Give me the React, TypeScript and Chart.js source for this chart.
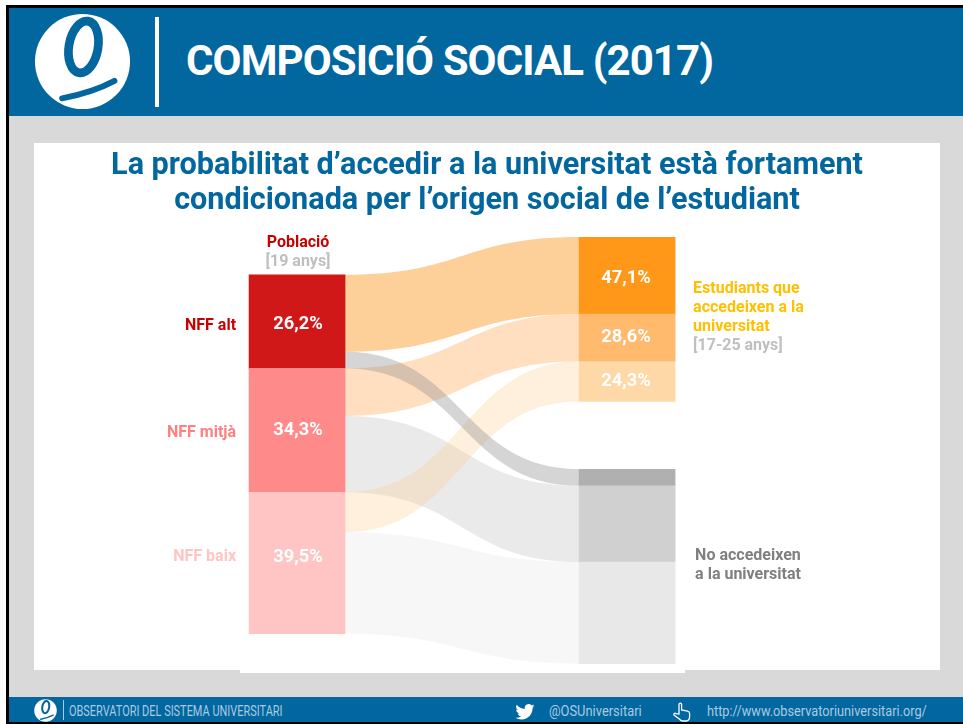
import React, { useEffect, useRef } from "react";
import { Chart, registerables } from "chart.js";

Chart.register(...registerables);

// Values
const sourceLabels = ["NFF alt", "NFF mitjà", "NFF baix"];
const populationShare = ["26,2%", "34,3%", "39,5%"];
const accessShare = ["47,1%", "28,6%", "24,3%"];
const flowToAccess = [21.4, 13.2, 11.1];
const flowToNoAccess = [4.6, 21.2, 28.2];
const populationTop = 10.5;
const targetGap = 18.8;
const xPopulation = 0;
const xTargets = 1;

const BLUE = "#02669f";
const FONT = "Roboto, sans-serif";

function buildStacks() {
  const left: number[][] = [];
  const leftAcc: number[][] = [];
  const leftNo: number[][] = [];
  let y = populationTop;
  flowToAccess.forEach((v, i) => {
    const n = flowToNoAccess[i];
    left.push([y, y + v + n]);
    leftAcc.push([y, y + v]);
    leftNo.push([y + v, y + v + n]);
    y += v + n;
  });
  const rightAcc: number[][] = [];
  y = 0;
  flowToAccess.forEach((v) => {
    rightAcc.push([y, y + v]);
    y += v;
  });
  y += targetGap;
  const rightNo: number[][] = [];
  flowToNoAccess.forEach((v) => {
    rightNo.push([y, y + v]);
    y += v;
  });
  return { left, leftAcc, leftNo, rightAcc, rightNo };
}

const sankeyPlugin = {
  id: "sankeyFlows",
  beforeDatasetsDraw(chart: any) {
    const { ctx, scales } = chart;
    const s = buildStacks();
    const half = 48;
    const x0 = scales.x.getPixelForValue(xPopulation) + half;
    const x1 = scales.x.getPixelForValue(xTargets) - half;
    const ribbon = (a: number[], b: number[], color: string) => {
      const mx = (x0 + x1) / 2;
      const y = (v: number) => scales.y.getPixelForValue(v);
      ctx.beginPath();
      ctx.moveTo(x0, y(a[0]));
      ctx.bezierCurveTo(mx, y(a[0]), mx, y(b[0]), x1, y(b[0]));
      ctx.lineTo(x1, y(b[1]));
      ctx.bezierCurveTo(mx, y(b[1]), mx, y(a[1]), x0, y(a[1]));
      ctx.closePath();
      ctx.fillStyle = color;
      ctx.fill();
    };
    ctx.save();
    ribbon(s.leftNo[2], s.rightNo[2], "#f7f7f7");
    ribbon(s.leftNo[1], s.rightNo[1], "rgba(217,217,219,0.56)");
    ribbon(s.leftAcc[2], s.rightAcc[2], "rgba(255,200,130,0.27)");
    ribbon(s.leftAcc[1], s.rightAcc[1], "rgba(255,192,128,0.5)");
    ribbon(s.leftAcc[0], s.rightAcc[0], "rgba(253,185,105,0.68)");
    ribbon(s.leftNo[0], s.rightNo[0], "rgba(150,150,150,0.4)");
    ctx.restore();
  },
  afterDatasetsDraw(chart: any) {
    const { ctx, scales } = chart;
    const s = buildStacks();
    const xl = scales.x.getPixelForValue(xPopulation);
    const xr = scales.x.getPixelForValue(xTargets);
    const yMid = (r: number[]) => scales.y.getPixelForValue((r[0] + r[1]) / 2);
    ctx.save();
    ctx.textBaseline = "middle";
    ctx.font = `bold 18.3px ${FONT}`;
    ctx.textAlign = "center";
    ctx.fillStyle = "#ffffff";
    const popNudge = [3, 0, -6];
    const accNudge = [3, 0, -0.5];
    populationShare.forEach((t, i) => ctx.fillText(t, xl + 1, yMid(s.left[i]) + popNudge[i]));
    accessShare.forEach((t, i) => ctx.fillText(t, xr - 1, yMid(s.rightAcc[i]) + accNudge[i]));

    ctx.font = `bold 16px ${FONT}`;
    const srcColors = ["#c80000", "#ff8080", "#ffc4c4"];
    ctx.textAlign = "right";
    const srcNudge = [4.5, 2.5, -6.5];
    sourceLabels.forEach((t, i) => {
      ctx.fillStyle = srcColors[i];
      ctx.fillText(t, xl - 61, yMid(s.left[i]) + srcNudge[i]);
    });

    const top = scales.y.getPixelForValue(0);
    ctx.textAlign = "center";
    ctx.fillStyle = "#c80000";
    ctx.fillText("Població", xl + 1, top + 6);
    ctx.fillStyle = "#bfbfbf";
    ctx.fillText("[19 anys]", xl + 1, top + 25);

    ctx.textAlign = "left";
    const rx = xr + 66;
    ctx.fillStyle = "#ffc000";
    ctx.fillText("Estudiants que", rx, top + 52);
    ctx.fillText("accedeixen a la", rx, top + 71);
    ctx.fillText("universitat", rx, top + 90);
    ctx.fillStyle = "#bfbfbf";
    ctx.fillText("[17-25 anys]", rx, top + 109);
    ctx.fillStyle = "#7f7f7f";
    ctx.fillText("No accedeixen", rx + 2, top + 319);
    ctx.fillText("a la universitat", rx + 2, top + 338);
    ctx.restore();
  },
};

function Logo({ size }: { size: number }) {
  return (
    <svg width={size} height={size} viewBox="0 0 100 100" style={{ display: "block" }}>
      <circle cx="50" cy="50" r="49" fill="#fff" />
      <ellipse cx="51" cy="35" rx="15" ry="27" transform="rotate(10 51 35)" fill="none" stroke={BLUE} strokeWidth="9" />
      <path d="M29 88 C 50 84, 68 78, 83 70" fill="none" stroke={BLUE} strokeWidth="6" strokeLinecap="round" />
    </svg>
  );
}

const abs = (left: number, top: number, width: number, height: number, background?: string): React.CSSProperties => ({
  position: "absolute",
  left,
  top,
  width,
  height,
  background,
});

const footerText: React.CSSProperties = {
  position: "absolute",
  fontFamily: FONT,
  fontSize: 15,
  lineHeight: "18px",
  color: "#a9cbe0",
  whiteSpace: "nowrap",
  transformOrigin: "left center",
};

export default function App() {
  const ref = useRef<HTMLCanvasElement>(null);
  useEffect(() => {
    document.body.style.margin = "0";
    document.body.style.overflow = "hidden";
    const s = buildStacks();
    const nodes = [
      ...s.left.map((r) => ({ x: xPopulation, y: r })),
      ...s.rightAcc.map((r) => ({ x: xTargets, y: r })),
      ...s.rightNo.map((r) => ({ x: xTargets, y: r })),
    ];
    const chart = new Chart(ref.current as HTMLCanvasElement, {
      type: "bar",
      data: {
        datasets: [
          {
            data: nodes as any,
            barThickness: 96,
            borderWidth: 0,
            backgroundColor: ["#d01818", "#ff8a8a", "#ffc5c5", "#ff9719", "#ffba6e", "#ffd8a8", "#b0b0b0", "#d0d0d0", "#e8e8e8"],
          },
        ],
      },
      options: {
        animation: false,
        responsive: false,
        parsing: { xAxisKey: "x", yAxisKey: "y" } as any,
        layout: { padding: 0 },
        scales: {
          x: { type: "linear", display: false, min: -0.797, max: 1.948, offset: false, grid: { display: false } },
          y: { display: false, reverse: true, min: 0, max: 121.1, grid: { display: false } },
        },
        plugins: {
          legend: { display: false },
          tooltip: { enabled: false },
          title: {
            display: true,
            text: ["La probabilitat d’accedir a la universitat està fortament", "condicionada per l’origen social de l’estudiant"],
            color: BLUE,
            font: { family: FONT, size: 30.6, weight: "bold", lineHeight: 35 / 30.6 },
            padding: { top: 5.5, bottom: 18.5 },
          },
        },
      },
      plugins: [sankeyPlugin],
    });
    return () => chart.destroy();
  }, []);

  return (
    <div style={{ position: "relative", width: 963, height: 724, overflow: "hidden", background: "#fff" }}>
      <div style={abs(6, 5, 957, 719, "#000")} />
      <div style={abs(9, 8, 954, 714, "#d9d9d9")} />
      <div style={abs(9, 8, 954, 108, BLUE)} />
      <div style={{ position: "absolute", left: 34, top: 13 }}>
        <Logo size={97} />
      </div>
      <div style={abs(155, 17, 4, 90, "#fff")} />
      <div
        style={{
          position: "absolute",
          left: 186,
          top: 36,
          fontFamily: FONT,
          fontWeight: 700,
          fontSize: 42,
          lineHeight: "50px",
          color: "#fff",
          whiteSpace: "nowrap",
          letterSpacing: "-0.9px",
        }}
      >
        COMPOSICIÓ SOCIAL (2017)
      </div>

      <div style={abs(34, 143, 906, 527, "#fff")} />
      <div style={abs(240, 660, 445, 13, "#fff")} />
      <canvas ref={ref} width={906} height={530} style={{ position: "absolute", left: 34, top: 143 }} />

      <div style={abs(9, 697, 954, 25, BLUE)} />
      <div style={{ position: "absolute", left: 34, top: 699 }}>
        <Logo size={23} />
      </div>
      <div style={abs(63, 700, 1, 20, "#a9cbe0")} />
      <div style={{ ...footerText, left: 69, top: 702, transform: "scaleX(0.73)" }}>OBSERVATORI DEL SISTEMA UNIVERSITARI</div>
      <div style={{ ...footerText, left: 549, top: 702, transform: "scaleX(0.86)" }}>@OSUniversitari</div>
      <div style={{ ...footerText, left: 707, top: 702, transform: "scaleX(0.85)" }}>http://www.observatoriuniversitari.org/</div>
      <svg width="20" height="16" viewBox="0 0 24 20" style={{ position: "absolute", left: 515, top: 704 }}>
        <path
          fill="#fff"
          d="M24 2.4a9.6 9.6 0 0 1-2.8.8A5 5 0 0 0 23.3.5a9.8 9.8 0 0 1-3.1 1.2 4.9 4.9 0 0 0-8.4 4.5A14 14 0 0 1 1.7.9a4.9 4.9 0 0 0 1.5 6.6 4.9 4.9 0 0 1-2.2-.6 4.9 4.9 0 0 0 3.9 4.8 5 5 0 0 1-2.2.1 4.9 4.9 0 0 0 4.6 3.4A9.9 9.9 0 0 1 0 17.2 14 14 0 0 0 7.5 19.4c9.1 0 14.3-7.7 14-14.6A10 10 0 0 0 24 2.4z"
        />
      </svg>
      <svg width="22" height="22" viewBox="0 0 22 22" style={{ position: "absolute", left: 671, top: 701 }}>
        <path
          fill="none"
          stroke="#fff"
          strokeWidth="1.3"
          d="M8 13V3.5a1.3 1.3 0 0 1 2.6 0V9l6 1.2c1.3.3 2 1 2 2.3v3c0 2-1 4-3 4.5h-4c-1.5 0-2.5-1-3.3-2L3 14c-.8-1.2.8-2.4 2-1.4z"
        />
      </svg>
    </div>
  );
}
